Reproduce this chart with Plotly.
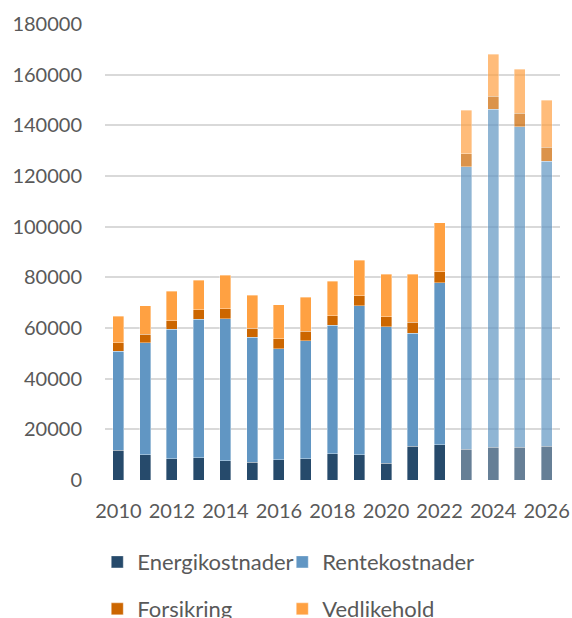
import plotly.graph_objects as go

years = list(range(2010, 2027))
energikostnader = [11800, 9900, 8300, 8800, 7600, 7000, 8000, 8400, 10300, 10000, 6700, 13400, 13900, 12200, 13000, 13000, 13400]
rentekostnader = [39100, 44300, 51200, 54600, 56100, 49300, 43800, 46600, 50800, 58700, 53700, 44600, 64000, 111500, 133300, 126500, 112400]
forsikring = [3300, 3400, 3400, 3800, 3900, 3700, 3900, 3800, 3700, 4000, 4100, 4200, 4300, 5000, 5100, 5200, 5600]
vedlikehold = [10400, 11100, 11700, 11600, 13200, 12900, 13400, 13400, 13600, 14100, 16800, 19000, 19400, 17300, 16700, 17500, 18600]
first_projection_year = 2023

opac = [0.7 if y >= first_projection_year else 1.0 for y in years]

series = [
    ("Energikostnader", energikostnader, "#264a6b", "legend"),
    ("Rentekostnader", rentekostnader, "#6196c3", "legend2"),
    ("Forsikring", forsikring, "#cc6600", "legend3"),
    ("Vedlikehold", vedlikehold, "#ffa142", "legend4"),
]

fig = go.Figure()
for name, vals, col, lg in series:
    fig.add_trace(go.Bar(
        x=years, y=vals, name=name, showlegend=True,
        marker=dict(color=col, opacity=opac, line=dict(color="rgba(255,255,255,0.45)", width=0.8)),
        legend=lg,
    ))

font = dict(family="Lato, Carlito, sans-serif", size=20, color="#595959")
lfont = dict(family="Lato, Carlito, sans-serif", size=22, color="#595959")

col1_x, col2_x = -0.017, -0.017 + 185 / 455
row1_y, row2_y = -0.180, -0.283


def leg(x, y):
    return dict(orientation="h", x=x, xanchor="left", y=y, yanchor="middle",
                font=lfont, bgcolor="rgba(0,0,0,0)", visible=True)


fig.update_layout(
    showlegend=True,
    barmode="stack",
    bargap=0.59,
    width=572, height=618,
    margin=dict(l=105, r=12, t=24, b=138, autoexpand=False),
    paper_bgcolor="white", plot_bgcolor="white",
    font=font,
    xaxis=dict(range=[2009.5, 2026.5], tick0=2010, dtick=2, showgrid=False,
               zeroline=False, showline=False, ticks="", ticklabelstandoff=17,
               tickfont=font),
    yaxis=dict(range=[0, 180000], dtick=20000, showgrid=True, gridcolor="#d9d9d9",
               gridwidth=1.5, zeroline=False, showline=False, ticks="",
               ticklabelstandoff=22, tickfont=font, tickformat="d"),
    legend=leg(col1_x, row1_y),
    legend2=leg(col2_x, row1_y),
    legend3=leg(col1_x, row2_y),
    legend4=leg(col2_x, row2_y),
)

fig.write_html("out.html", config={"displayModeBar": False},
               post_script="document.body.style.margin='0';")
